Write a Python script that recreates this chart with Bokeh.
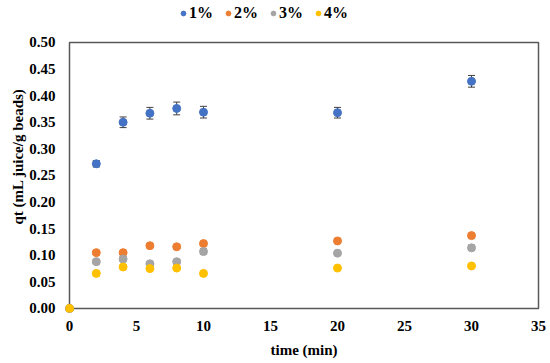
from bokeh.plotting import figure
from bokeh.models import ColumnDataSource, Whisker, TeeHead, Legend, LegendItem, FixedTicker, Range1d
from bokeh.embed import file_html
from bokeh.resources import INLINE

time = [0, 2, 4, 6, 8, 10, 20, 30]
series_names = ["1%", "2%", "3%", "4%"]
q1 = [0.0, 0.272, 0.350, 0.367, 0.376, 0.369, 0.368, 0.427]
e1 = [0.0, 0.006, 0.010, 0.011, 0.012, 0.011, 0.010, 0.011]
q2 = [0.0, 0.105, 0.105, 0.118, 0.116, 0.122, 0.127, 0.137]
e2 = [0.0, 0.003, 0.003, 0.003, 0.003, 0.003, 0.003, 0.004]
q3 = [0.0, 0.088, 0.093, 0.084, 0.088, 0.107, 0.104, 0.114]
e3 = [0.0, 0.004, 0.004, 0.003, 0.004, 0.005, 0.004, 0.005]
q4 = [0.0, 0.066, 0.078, 0.075, 0.076, 0.066, 0.076, 0.080]
e4 = [0.0, 0.002, 0.002, 0.002, 0.002, 0.002, 0.002, 0.002]
colors = ["#4472C4", "#ED7D31", "#A5A5A5", "#FFC000"]
x_ticks = [0, 5, 10, 15, 20, 25, 30, 35]
y_ticks = [0.0, 0.05, 0.10, 0.15, 0.20, 0.25, 0.30, 0.35, 0.40, 0.45, 0.50]

FONT = "Liberation Serif"
X0, X1 = x_ticks[0], x_ticks[-1]
Y0, Y1 = y_ticks[0], y_ticks[-1]

p = figure(width=550, height=363, output_backend="svg", toolbar_location=None,
           x_range=Range1d(-0.2985, 35.2985), y_range=Range1d(-0.00752, 0.5789),
           min_border_left=65, min_border_right=8, min_border_top=0, min_border_bottom=51)
p.xgrid.visible = False
p.ygrid.visible = False
p.outline_line_color = None
p.background_fill_color = "white"
p.border_fill_color = "white"

for ax in (p.xaxis[0], p.yaxis[0]):
    ax.major_label_text_font = FONT
    ax.major_label_text_font_style = "bold"
    ax.major_label_text_font_size = "15px"
    ax.major_label_text_color = "black"
    ax.axis_label_text_font = FONT
    ax.axis_label_text_font_style = "bold"
    ax.axis_label_text_font_size = "15px"
    ax.axis_label_text_color = "black"
    ax.major_tick_line_color = None
    ax.minor_tick_line_color = None
    ax.major_tick_out = 0
    ax.major_tick_in = 0
    ax.minor_tick_out = 0
    ax.minor_tick_in = 0
    ax.axis_line_color = None

p.xaxis.ticker = FixedTicker(ticks=x_ticks)
p.yaxis.ticker = FixedTicker(ticks=y_ticks)
p.xaxis.major_label_overrides = {t: str(t) for t in x_ticks}
p.yaxis.major_label_overrides = {t: f"{t:.2f}" for t in y_ticks}
p.xaxis.axis_label = "time (min)"
p.yaxis.axis_label = "qt (mL juice/g beads)"
p.xaxis.major_label_standoff = 8
p.xaxis.axis_label_standoff = 8
p.yaxis.major_label_standoff = 10
p.yaxis.axis_label_standoff = 0

# plot-area box
p.quad(left=[X0], right=[X1], bottom=[Y0], top=[Y1], fill_color=None,
       line_color="#595959", line_width=1.5)

items = []
for name, q, e, c in zip(series_names, [q1, q2, q3, q4], [e1, e2, e3, e4], colors):
    src = ColumnDataSource(dict(x=time, y=q,
                                lo=[a - b for a, b in zip(q, e)],
                                hi=[a + b for a, b in zip(q, e)]))
    w = Whisker(source=src, base="x", lower="lo", upper="hi", line_color="#404040", line_width=1,
                lower_head=TeeHead(size=7, line_color="#404040", line_width=1),
                upper_head=TeeHead(size=7, line_color="#404040", line_width=1))
    p.add_layout(w)
    r = p.scatter("x", "y", source=src, size=8, color=c, line_color=c)
    items.append(LegendItem(label=name, renderers=[r]))

legend = Legend(items=items, orientation="horizontal", location=(112, 290),
                label_text_font=FONT, label_text_font_style="bold", label_text_font_size="16px",
                label_text_color="black",
                glyph_width=12, glyph_height=12, label_standoff=0, spacing=9,
                border_line_color=None, background_fill_alpha=0, padding=0, margin=0)
p.add_layout(legend)

open("out.html", "w").write(file_html(p, INLINE))
